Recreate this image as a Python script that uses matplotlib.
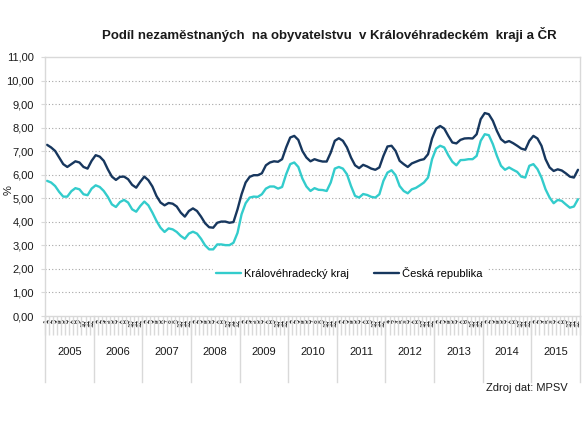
import numpy as np
import matplotlib.pyplot as plt
from matplotlib.ticker import FuncFormatter
import matplotlib.transforms as mtransforms

plt.rcParams['font.family'] = ['Liberation Sans', 'DejaVu Sans']

# Podíl nezaměstnaných, měsíčně 1/2005 - 12/2015
roky = ['2005', '2006', '2007', '2008', '2009', '2010',
        '2011', '2012', '2013', '2014', '2015']
mesice = [str(m) for m in range(1, 13)]

khk = [5.74, 5.67, 5.52, 5.27, 5.07, 5.07, 5.30, 5.43, 5.38, 5.17, 5.13, 5.41,
       5.55, 5.48, 5.31, 5.06, 4.74, 4.63, 4.84, 4.93, 4.82, 4.53, 4.43, 4.67,
       4.86, 4.70, 4.39, 4.04, 3.75, 3.57, 3.72, 3.68, 3.57, 3.40, 3.28, 3.50,
       3.58, 3.50, 3.28, 3.00, 2.83, 2.83, 3.04, 3.04, 3.01, 3.01, 3.11, 3.53,
       4.32, 4.79, 5.03, 5.07, 5.06, 5.17, 5.41, 5.50, 5.50, 5.41, 5.48, 6.02,
       6.45, 6.52, 6.33, 5.84, 5.50, 5.31, 5.43, 5.36, 5.35, 5.31, 5.67, 6.26,
       6.33, 6.26, 6.02, 5.52, 5.10, 5.03, 5.18, 5.14, 5.06, 5.03, 5.17, 5.74,
       6.09, 6.19, 5.98, 5.52, 5.31, 5.21, 5.38, 5.44, 5.55, 5.67, 5.88, 6.66,
       7.11, 7.23, 7.16, 6.83, 6.55, 6.40, 6.62, 6.63, 6.66, 6.66, 6.80, 7.44,
       7.72, 7.68, 7.30, 6.80, 6.38, 6.21, 6.31, 6.21, 6.12, 5.92, 5.88, 6.38,
       6.45, 6.24, 5.88, 5.38, 5.03, 4.79, 4.93, 4.89, 4.74, 4.60, 4.65, 4.96]

cr = [7.27, 7.16, 7.01, 6.73, 6.45, 6.33, 6.45, 6.57, 6.52, 6.33, 6.26, 6.59,
      6.83, 6.77, 6.59, 6.23, 5.92, 5.78, 5.91, 5.92, 5.81, 5.57, 5.45, 5.70,
      5.92, 5.77, 5.50, 5.10, 4.82, 4.70, 4.80, 4.77, 4.65, 4.39, 4.22, 4.46,
      4.57, 4.46, 4.22, 3.94, 3.77, 3.75, 3.96, 4.01, 4.01, 3.96, 3.99, 4.53,
      5.17, 5.67, 5.91, 5.98, 5.98, 6.06, 6.40, 6.52, 6.57, 6.55, 6.66, 7.16,
      7.58, 7.65, 7.48, 7.01, 6.73, 6.57, 6.66, 6.60, 6.56, 6.56, 6.94, 7.44,
      7.55, 7.44, 7.16, 6.73, 6.40, 6.28, 6.42, 6.35, 6.26, 6.21, 6.31, 6.80,
      7.20, 7.23, 7.01, 6.59, 6.45, 6.33, 6.48, 6.55, 6.62, 6.66, 6.87, 7.54,
      7.96, 8.07, 7.96, 7.65, 7.37, 7.33, 7.48, 7.54, 7.55, 7.54, 7.72, 8.36,
      8.62, 8.57, 8.29, 7.86, 7.51, 7.37, 7.43, 7.34, 7.23, 7.11, 7.06, 7.44,
      7.65, 7.54, 7.23, 6.66, 6.31, 6.16, 6.23, 6.18, 6.06, 5.92, 5.88, 6.21]

c_khk = '#33CCCC'
c_cr = '#17375E'
sed = '#D9D9D9'

fig = plt.figure(figsize=(5.87, 4.26), dpi=100)
ax = fig.add_axes([45 / 587, 110 / 426, 535 / 587, 259 / 426])

x = np.arange(len(khk))
ax.plot(x, khk, color=c_khk, lw=1.7, label='Královéhradecký kraj', solid_capstyle='round')
ax.plot(x, cr, color=c_cr, lw=1.7, label='Česká republika', solid_capstyle='round')

ax.set_xlim(-0.5, len(khk) - 0.5)
ax.set_ylim(0, 11)
ax.set_yticks(range(0, 12))
ax.yaxis.set_major_formatter(FuncFormatter(lambda v, p: f'{v:.2f}'.replace('.', ',')))
ax.tick_params(axis='y', labelsize=8, length=3, color=sed, pad=5, labelcolor='#1a1a1a')
for v in range(1, 11):
    ax.axhline(v, color='#A6A6A6', lw=0.8, ls=(0, (1, 2)), zorder=0)

for s in ['top', 'right', 'left', 'bottom']:
    ax.spines[s].set_color(sed)
    ax.spines[s].set_linewidth(1.0)

# mesicni popisky (v originale se prekryvaji)
ax.set_xticks(x)
ax.set_xticklabels(mesice * len(roky), rotation=90, fontsize=5, va='top')
ax.tick_params(axis='x', which='major', length=0, pad=2, labelcolor='#1a1a1a')
ax.set_xticks(np.arange(-0.5, len(khk)), minor=True)
ax.tick_params(axis='x', which='minor', length=14, color=sed, width=1.0)

trans = mtransforms.blended_transform_factory(ax.transData, ax.transAxes)
for k, r in enumerate(roky):
    ax.text(12 * k + 5.5, -0.139, r, transform=trans, ha='center', va='center',
            fontsize=8, color='#1a1a1a')
    ax.plot([12 * k - 0.5, 12 * k - 0.5], [0, -0.255], transform=trans,
            color=sed, lw=1.0, clip_on=False)
ax.plot([len(khk) - 0.5] * 2, [0, -0.255], transform=trans, color=sed, lw=1.0, clip_on=False)

fig.text(9 / 587, 1 - 190 / 426, '%', rotation=90, ha='center', va='center',
         fontsize=8, color='#1a1a1a')

leg = ax.legend(loc='center', bbox_to_anchor=(0.569, 0.165), ncol=2, frameon=True,
                fontsize=8, handlelength=2.25, handletextpad=0.25,
                columnspacing=2.25, borderpad=0.3)
leg.get_frame().set_edgecolor('white')
leg.get_frame().set_alpha(1)
leg.get_frame().set_boxstyle('square', pad=0)

fig.text(329 / 587, 1 - 35 / 426,
         'Podíl nezaměstnaných  na obyvatelstvu  v Královéhradeckém  kraji a ČR',
         ha='center', va='center', fontsize=9.5, fontweight='bold', color='#1a1a1a')
fig.text(568 / 587, 1 - 388 / 426, 'Zdroj dat: MPSV', ha='right', va='center',
         fontsize=8, color='#1a1a1a')

fig.savefig('out.png', dpi=100)
